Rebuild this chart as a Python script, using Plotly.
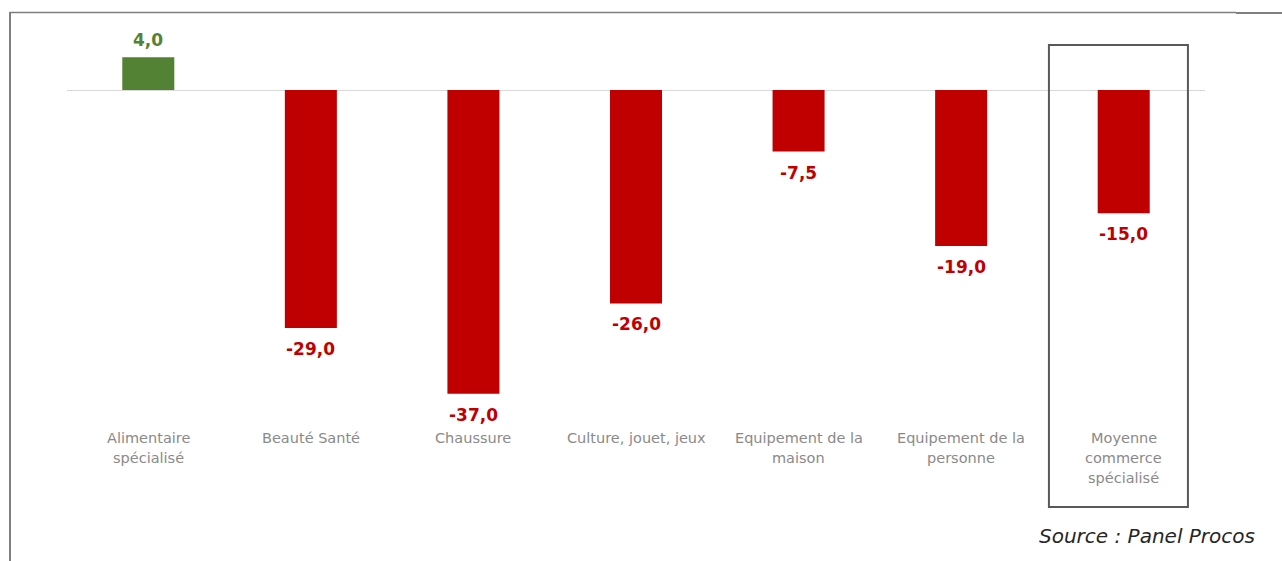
import plotly.graph_objects as go

# Evolution by retail sector (%)
categories = [
    "Alimentaire<br>spécialisé",
    "Beauté Santé",
    "Chaussure",
    "Culture, jouet, jeux",
    "Equipement de la<br>maison",
    "Equipement de la<br>personne",
    "Moyenne<br>commerce<br>spécialisé",
]
values = [4.0, -29.0, -37.0, -26.0, -7.5, -19.0, -15.0]
value_labels = ["4,0", "-29,0", "-37,0", "-26,0", "-7,5", "-19,0", "-15,0"]

GREEN = "#548235"
RED = "#C00000"
colors = [GREEN if v >= 0 else RED for v in values]
xs = list(range(len(categories)))

W, H = 1282, 561
L, R, T, B = 67, 77, 24, 137
plot_w = W - L - R
plot_h = H - T - B


def px_x(p):
    return (p - L) / plot_w


def px_y(p):
    return (H - B - p) / plot_h


fig = go.Figure(
    go.Bar(
        x=xs,
        y=values,
        marker=dict(color=colors, line=dict(width=0)),
        width=0.32,
        hoverinfo="skip",
    )
)

annotations = []
# value labels above / below each bar
for x, v, lab, c in zip(xs, values, value_labels, colors):
    annotations.append(dict(
        x=x, y=v, xref="x", yref="y", text=f"<b>{lab}</b>", showarrow=False,
        font=dict(family="DejaVu Sans", size=17, color=c),
        yanchor="middle", yshift=17 if v >= 0 else -21,
    ))
# category labels, one annotation per line for a fixed line pitch
for x, cat in zip(xs, categories):
    for i, line in enumerate(cat.split("<br>")):
        annotations.append(dict(
            x=x, y=px_y(438 + 20 * i), xref="x", yref="paper", text=line,
            showarrow=False,
            font=dict(family="DejaVu Sans", size=14.5, color="#8a8a8a"),
            yanchor="middle", align="center",
        ))
annotations.append(dict(
    x=px_x(1257), y=px_y(536), xref="paper", yref="paper",
    text="<i>Source : Panel Procos</i>", showarrow=False,
    xanchor="right", yanchor="middle",
    font=dict(family="DejaVu Sans", size=20, color="#262626"),
))

shapes = [
    # highlight box around the average
    dict(type="rect", xref="x", yref="paper", x0=5.54, x1=6.395,
         y0=px_y(507), y1=px_y(45), line=dict(color="#595959", width=2),
         fillcolor="rgba(0,0,0,0)"),
    # outer frame
    dict(type="line", xref="paper", yref="paper", x0=px_x(10), x1=px_x(10),
         y0=px_y(12), y1=px_y(575), line=dict(color="#7f7f7f", width=2)),
    dict(type="line", xref="paper", yref="paper", x0=px_x(10), x1=px_x(1236),
         y0=px_y(12.5), y1=px_y(12.5), line=dict(color="#7f7f7f", width=1.3)),
    dict(type="line", xref="paper", yref="paper", x0=px_x(1236), x1=px_x(1290),
         y0=px_y(13), y1=px_y(13), line=dict(color="#7f7f7f", width=2)),
]

fig.update_layout(
    width=W, height=H,
    margin=dict(l=L, r=R, t=T, b=B),
    paper_bgcolor="white", plot_bgcolor="white",
    showlegend=False,
    xaxis=dict(range=[-0.5, 6.5], showticklabels=False, showgrid=False,
               zeroline=False, showline=False, ticks=""),
    yaxis=dict(range=[-40.7, 8.05], showticklabels=False, showgrid=False,
               zeroline=True, zerolinecolor="#d9d9d9", zerolinewidth=1,
               showline=False, ticks=""),
    annotations=annotations,
    shapes=shapes,
)

fig.write_html("out.html")
